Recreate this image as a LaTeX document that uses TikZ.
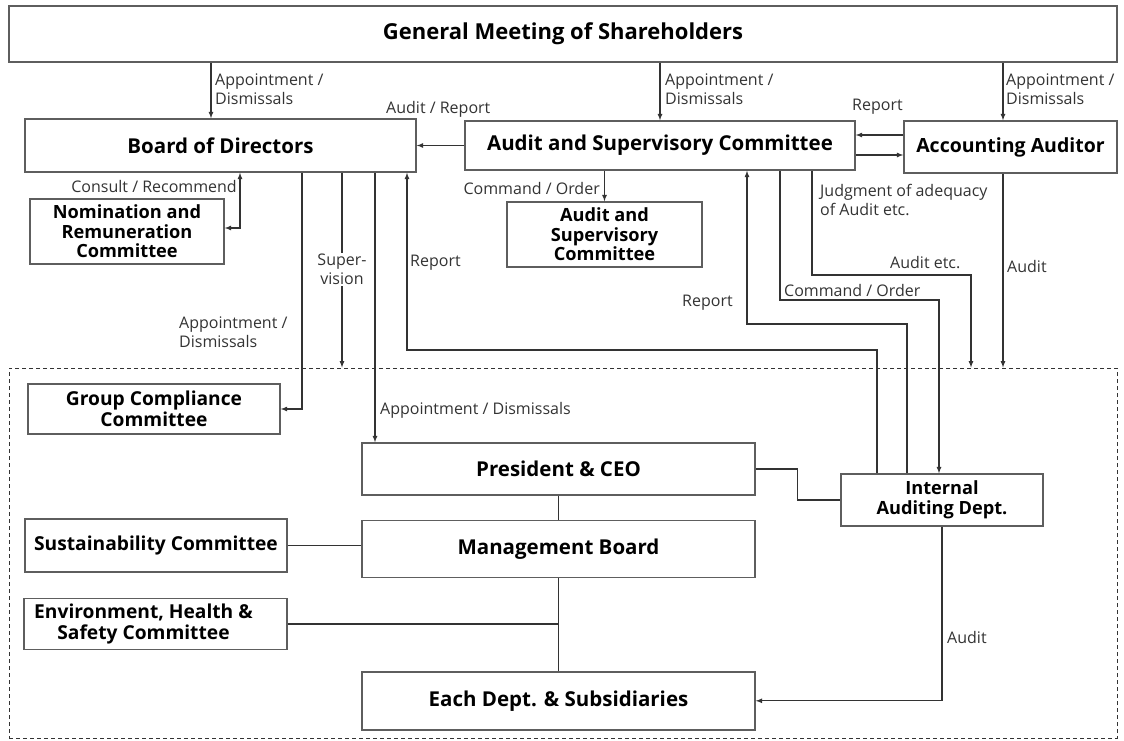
\documentclass[tikz,border=0pt]{standalone}
\usepackage{fontspec}
\setmainfont{Open Sans}
\usepackage{tikz}
\usepackage{xcolor}
\usetikzlibrary{positioning}
\definecolor{edge}{HTML}{5E5E5E}
\definecolor{wire}{HTML}{333333}
\tikzstyle{box}=[draw=edge, line width=1.4pt, fill=white, align=center, inner sep=0pt, font=\fontsize{20.5}{22}\selectfont\bfseries]
\tikzstyle{small}=[font=\fontsize{18.2}{19.5}\selectfont\bfseries]
\tikzstyle{mid}=[font=\fontsize{19.2}{21}\selectfont\bfseries]
\tikzstyle{link}=[->, draw=wire, line width=1.2pt]
\tikzstyle{plain}=[draw=wire, line width=1.2pt]
\tikzstyle{tag}=[inner sep=1pt, align=left, text=wire, font=\fontsize{16}{19}\selectfont]

\begin{document}
\begin{tikzpicture}[x=1pt, y=-1pt, >=latex]
  \useasboundingbox (0,0) rectangle (1124,740);
  \node[draw=wire, dash pattern=on 4pt off 3pt, line width=1pt, minimum width=1108pt, minimum height=370pt, inner sep=0pt] (group) at (563,553) {};

  \node[box, minimum width=1108pt, minimum height=56pt, font=\fontsize{22}{24}\selectfont\bfseries] (gms) at (563,34) {General Meeting of Shareholders};
  \node[box, minimum width=391pt, minimum height=53pt]  (board) at (220.5,145.5) {Board of Directors};
  \node[box, minimum width=390pt, minimum height=49pt]  (asc)   at (660,145.5)   {Audit and Supervisory Committee};
  \node[box, minimum width=213pt, minimum height=52pt, font=\fontsize{19.5}{21}\selectfont\bfseries] (aa) at (1010.5,147) {Accounting Auditor};
  \node[box, small, minimum width=194pt, minimum height=65pt] (nrc)  at (127,231.5)   {Nomination and\\Remuneration\\Committee};
  \node[box, small, minimum width=195pt, minimum height=65pt] (asc2) at (604.5,234.5) {Audit and\\Supervisory\\Committee};
  \node[box, mid, minimum width=252pt, minimum height=50pt]   (gcc)  at (154,409)     {Group Compliance\\Committee};
  \node[box, minimum width=393pt, minimum height=52pt]  (pres)  at (558.5,469)   {President \& CEO};
  \node[box, minimum width=393pt, minimum height=57pt]  (mb)   [below=24pt of pres] {Management Board};
  \node[box, minimum width=393pt, minimum height=58pt]  (each) [below=93pt of mb]   {Each Dept. \& Subsidiaries};
  \node[box, mid, minimum width=262pt, minimum height=53pt]   (sc)   at (156,545.5)   {Sustainability Committee};
  \node[box, mid, minimum width=263pt, minimum height=51pt] (ehs) at (155.5,624) {\hspace*{-24pt}Environment, Health \&\\\hspace*{-24pt}Safety Committee};
  \node[box, small, minimum width=202pt, minimum height=52pt] (iad)  at (942,500)     {Internal\\Auditing Dept.};

  % bend points of the long elbows
  \coordinate (bendB) at (407,350);
  \coordinate (bendA) at (747,324);
  \coordinate (bendC) at (939,300);
  \coordinate (bendJ) at (971,275);

  % from the shareholders
  \draw[link] ([xshift=-9.5pt]board.north |- gms.south) -- ([xshift=-9.5pt]board.north);
  \draw[link] (asc.north |- gms.south) -- (asc.north);
  \draw[link] ([xshift=-7.5pt]aa.north |- gms.south) -- ([xshift=-7.5pt]aa.north);
  \node[tag, anchor=west] (lab1) at (214,89.5)  {Appointment /\\Dismissals};
  \node[tag, anchor=west] (lab2) at (664,89.5)  {Appointment /\\Dismissals};
  \node[tag, anchor=west] (lab3) at (1005,89.5) {Appointment /\\Dismissals};

  % audit committee and auditor
  \draw[link] (asc.west) -- (board.east);
  \node[tag, anchor=west] (labAR) at (385,109) {Audit / Report};
  \draw[link] ([yshift=12pt]aa.west) -- ([yshift=12pt]aa.west -| asc.east);
  \node[tag, anchor=west] (labRA) at (851,107) {Report};
  \draw[link] ([yshift=-8pt]aa.west -| asc.east) -- ([yshift=-8pt]aa.west);
  \draw[link] (asc.south -| asc2.north) -- (asc2.north);
  \node[tag, anchor=east] (labCO) at (601,188) {Command / Order};

  % board of directors
  \draw[link, <->] ([yshift=3.5pt]nrc.east) -| ([xshift=19.5pt]board.south);
  \node[tag, anchor=east] (labCR) at (238,186) {Consult / Recommend};
  \draw[link] ([xshift=81.5pt]board.south) |- (gcc.east);
  \node[tag, anchor=west] (labGC) at (178,332.5) {Appointment /\\Dismissals};
  \draw[link] ([xshift=121.5pt]board.south) -- ([xshift=121.5pt]board.south |- group.north);
  \node[tag, align=center, fill=white] (labSV) at (342,269.5) {Super-\\vision};
  \draw[link] ([xshift=154.5pt]board.south) -- ([xshift=154.5pt]board.south |- pres.north);
  \node[tag, anchor=west] (labPR) at (379,410) {Appointment / Dismissals};

  % reports and orders around internal auditing
  \draw[link] ([xshift=-65pt]iad.north) |- (bendB) -- (bendB |- board.south);
  \node[tag, anchor=west] (labRB) at (409,263) {Report};
  \draw[link] ([xshift=-35pt]iad.north) |- (bendA) -- (bendA |- asc.south);
  \node[tag, anchor=west] (labRC) at (681,303) {Report};
  \draw[link] ([xshift=120pt]asc.south) |- (bendC) -- (bendC |- iad.north);
  \node[tag, anchor=west] (labCI) at (783,290) {Command / Order};
  \draw[link] ([xshift=152pt]asc.south) |- (bendJ) -- (bendJ |- group.north);
  \node[tag, anchor=west] (labJA) at (819,200) {Judgment of adequacy\\of Audit etc.};
  \node[tag, anchor=west] (labAE) at (889,263) {Audit etc.};
  \draw[link] ([xshift=-7.5pt]aa.south) -- ([xshift=-7.5pt]aa.south |- group.north);
  \node[tag, anchor=west] (labAU) at (1006,266) {Audit};

  % executive side
  \draw[plain] (pres.south) -- (mb.north);
  \draw[plain] (mb.south) -- (each.north);
  \draw[plain] (sc.east) -- (sc.east -| mb.west);
  \draw[plain] (ehs.east) -- (ehs.east -| mb.south);
  \draw[plain] (pres.east) -- ++(42,0) |- (iad.west);
  \draw[link] (iad.south) |- (each.east);
  \node[tag, anchor=west] (labAD) at (946,637) {Audit};
\end{tikzpicture}
\end{document}
